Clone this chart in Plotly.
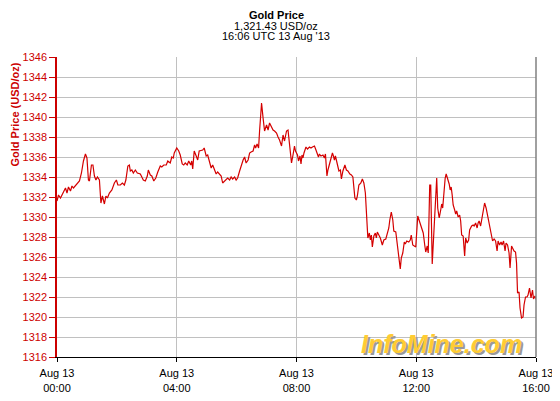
import pandas as pd
import plotly.graph_objects as go

# Minutes after 00:00 UTC, 13 Aug 2013
minutes = [
    0, 3, 7, 13, 17, 20, 23, 27, 30, 33, 40, 45, 49, 53, 57, 60, 63, 65, 69, 72,
    75, 78, 81, 85, 88, 91, 95, 98, 101, 105, 110, 115, 119, 122, 127, 131, 135, 138, 142, 145,
    147, 150, 153, 157, 161, 167, 173, 177, 181, 183, 187, 190, 194, 198, 202, 207, 210, 214, 219, 222,
    227, 230, 233, 235,
    240, 244, 247, 251, 254, 257, 261, 264, 268, 270, 272, 275, 279, 282, 285, 289, 292, 295, 299, 302,
    306, 309, 312, 316, 319, 322, 326, 329, 332, 336, 339, 342, 346, 349, 352, 356, 359, 362, 366, 369,
    373, 376, 379, 383, 386, 389, 393, 396, 398, 401, 404, 406, 410, 413, 416, 420, 423, 426, 430, 433,
    436, 440, 443, 446, 450, 453, 456, 460, 463, 466, 470, 473, 476, 478,
    482, 484, 487, 489, 491, 493, 495, 499, 502, 506, 509, 512, 516, 519, 521, 524, 526, 529, 533, 536,
    538, 541, 543, 545, 548, 552, 554, 556, 558, 562, 565, 568, 570, 573, 577, 580, 583, 587, 590, 593,
    597, 600, 602, 605, 609, 612, 615, 618, 621, 623, 626, 628, 630, 632, 635, 638, 640, 642, 646, 648,
    652, 655, 659, 662, 665, 667, 670, 673, 675, 679, 682, 685, 688, 690, 693, 696, 698, 701, 705, 708,
    710, 713, 716, 719,
    723, 727, 730, 734, 737, 739, 742, 744, 747, 749, 752, 755, 759, 761, 763, 766, 769, 771, 773, 775,
    778, 780, 783, 786, 788, 790, 792, 794, 797, 799, 801, 804, 807, 809, 811, 814, 817, 819, 822, 825,
    827, 831, 834, 836, 839, 842, 844, 846, 849, 852, 855, 857, 860, 863, 865, 868, 871, 873, 876, 879,
    882, 884, 887, 890, 892, 895, 898, 900, 903, 906, 908, 911, 913, 916, 919, 921, 923, 926, 928, 931,
    934, 936, 939, 942, 944, 947, 950, 953, 955, 958, 961, 963,
]

prices = [
    1331.6, 1332.2, 1331.9, 1332.6, 1332.9, 1332.4, 1333.0, 1332.6, 1333.1, 1332.9, 1333.3, 1333.6, 1334.4, 1335.6, 1336.3, 1335.9, 1333.7, 1333.6, 1335.2, 1335.2,
    1334.1, 1333.7, 1334.0, 1333.7, 1331.4, 1332.1, 1331.3, 1332.1, 1331.9, 1332.4, 1332.7, 1333.4, 1333.7, 1333.2, 1333.2, 1333.4, 1333.2, 1333.7, 1335.1, 1335.2,
    1334.6, 1334.7, 1334.4, 1334.7, 1334.4, 1334.3, 1333.7, 1333.6, 1334.1, 1334.7, 1334.2, 1334.1, 1333.6, 1333.9, 1334.5, 1335.1, 1335.0, 1335.2, 1335.2, 1335.6,
    1335.4, 1336.0, 1335.9, 1336.4,
    1336.9, 1336.6, 1336.2, 1335.3, 1335.2, 1335.4, 1335.2, 1335.6, 1335.2, 1335.6, 1334.8, 1336.6, 1336.1, 1335.7, 1336.6, 1336.7, 1336.7, 1336.9, 1336.1, 1336.2,
    1335.4, 1334.9, 1335.2, 1334.6, 1334.3, 1334.5, 1334.2, 1334.1, 1333.4, 1333.6, 1333.7, 1333.9, 1333.7, 1334.0, 1333.8, 1334.0, 1333.7, 1333.9, 1334.6, 1335.1,
    1335.7, 1336.0, 1335.4, 1335.7, 1336.4, 1336.5, 1336.6, 1337.2, 1336.9, 1337.3, 1336.9, 1338.6, 1341.4, 1339.9, 1338.6, 1339.2, 1338.7, 1339.4, 1338.9, 1338.7,
    1338.6, 1338.4, 1338.0, 1337.7, 1337.1, 1338.2, 1337.6, 1338.6, 1338.7, 1337.2, 1335.4, 1336.2, 1337.1, 1336.6,
    1336.2, 1335.6, 1336.1, 1335.3, 1336.2, 1335.9, 1336.4, 1337.0, 1336.8, 1337.0, 1336.9, 1337.0, 1337.1, 1336.7, 1336.4, 1336.0, 1336.3, 1336.1, 1336.2, 1335.9,
    1336.3, 1334.1, 1334.7, 1335.1, 1335.9, 1336.4, 1336.1, 1335.7, 1336.1, 1335.2, 1334.6, 1334.7, 1333.8, 1334.6, 1335.2, 1334.7, 1334.6, 1334.3, 1334.2, 1334.0,
    1331.9, 1331.7, 1332.1, 1333.2, 1333.4, 1333.8, 1333.4, 1332.4, 1329.6, 1327.9, 1328.4, 1327.7, 1328.2, 1327.0, 1328.1, 1328.4, 1327.9, 1328.5, 1328.1, 1327.9,
    1327.2, 1327.7, 1327.8, 1328.4, 1328.9, 1329.7, 1330.5, 1329.7, 1328.6, 1328.5, 1327.2, 1325.6, 1324.8, 1325.9, 1326.4, 1327.5, 1327.3, 1327.6, 1327.5, 1327.7,
    1328.2, 1327.2, 1327.1, 1327.0,
    1330.1, 1329.4, 1328.9, 1328.4, 1327.2, 1326.5, 1327.1, 1326.4, 1333.2, 1333.2, 1325.3, 1328.6, 1331.9, 1333.9, 1330.9, 1329.9, 1330.7, 1331.3, 1330.9, 1332.2,
    1333.9, 1334.3, 1333.9, 1333.3, 1332.7, 1333.0, 1332.2, 1331.2, 1330.7, 1330.3, 1330.6, 1330.0, 1330.2, 1329.6, 1328.2, 1328.1, 1326.1, 1327.9, 1327.4, 1327.7,
    1328.7, 1329.1, 1329.2, 1329.1, 1329.4, 1328.9, 1329.4, 1329.6, 1329.1, 1329.9, 1330.9, 1331.4, 1330.9, 1330.1, 1329.6, 1328.7, 1328.1, 1327.6, 1327.8, 1327.6,
    1326.6, 1327.6, 1327.2, 1327.5, 1327.2, 1327.6, 1326.6, 1327.4, 1327.2, 1326.4, 1324.9, 1327.1, 1326.9, 1326.6, 1326.5, 1325.4, 1322.4, 1322.5, 1320.9, 1319.9,
    1320.0, 1321.2, 1322.0, 1322.0, 1322.2, 1322.9, 1321.9, 1322.7, 1321.8, 1322.1, 1321.7, 1321.9,
]

tick_hours = [0, 4, 8, 12, 16]
tick_labels = ["Aug 13<br>00:00", "Aug 13<br>04:00", "Aug 13<br>08:00", "Aug 13<br>12:00", "Aug 13<br>16:00"]
y_ticks = list(range(1316, 1347, 2))

title_lines = ["<b>Gold Price</b>", "1,321.43 USD/oz", "16:06 UTC 13 Aug '13"]

base = pd.Timestamp("2013-08-13 00:00")
x = [base + pd.Timedelta(minutes=m) for m in minutes]
tickvals = [base + pd.Timedelta(hours=h) for h in tick_hours]

RED = "#cc0000"
FONT = "Liberation Sans, Arial, sans-serif"

fig = go.Figure()
fig.add_trace(go.Scatter(x=x, y=prices, mode="lines",
                         line=dict(color="#d40000", width=1.2), hoverinfo="skip"))

# The page body has an 8px margin, so the figure is drawn 8px in from the
# window corner; the figure is sized/positioned to compensate.
OFF = 8
W, H = 560 - OFF, 401 - OFF
L, R, T, B = 57 - OFF, 24, 57 - OFF, 44
plot_h = H - T - B
plot_w = W - L - R

fig.update_layout(
    width=W, height=H,
    margin=dict(l=L, r=R, t=T, b=B, pad=0, autoexpand=False),
    paper_bgcolor="white", plot_bgcolor="white",
    showlegend=False,
    font=dict(family=FONT, size=11, color="black"),
)

fig.update_xaxes(
    range=[base, base + pd.Timedelta(hours=16)],
    tickvals=tickvals, ticktext=tick_labels,
    showgrid=True, gridcolor="#c0c0c0", gridwidth=1.3,
    showline=True, linecolor="black", linewidth=1.3,
    ticks="outside", ticklen=4, tickcolor="black",
    ticklabelstandoff=2, automargin=False,
    tickfont=dict(family=FONT, size=11, color="black"),
    zeroline=False,
)
fig.update_yaxes(
    range=[1316, 1346],
    tickvals=y_ticks, automargin=False,
    showgrid=True, gridcolor="#c0c0c0", gridwidth=1.3,
    showline=True, linecolor=RED, linewidth=1.5,
    ticks="outside", ticklen=6, tickcolor=RED,
    tickfont=dict(family=FONT, size=11, color=RED),
    zeroline=False,
)

# right border
fig.add_shape(type="line", xref="paper", yref="paper", x0=1, x1=1, y0=0, y1=1,
              line=dict(color="#808080", width=1.5))

# helpers: reference-window pixel -> paper coordinates
def py(ref_y):
    return (H - B - (ref_y - OFF)) / plot_h

def px(ref_x):
    return ((ref_x - OFF) - L) / plot_w

for txt, yy in zip(title_lines, [14.5, 26, 36.5]):
    fig.add_annotation(text=txt, xref="paper", yref="paper", x=px(276), y=py(yy),
                       showarrow=False, xanchor="center", yanchor="middle",
                       font=dict(family=FONT, size=11, color="black"))

fig.add_annotation(text="<b>Gold Price (USD/oz)</b>", xref="paper", yref="paper",
                   x=px(14.5), y=py(115), textangle=-90, showarrow=False,
                   xanchor="center", yanchor="middle",
                   font=dict(family=FONT, size=11, color=RED))

# watermark
for dx, dy, col in [(2, 2, "#9a9a9a"), (0, 0, "#ffcc33")]:
    fig.add_annotation(text="<b><i>InfoMine.com</i></b>", xref="paper", yref="paper",
                       x=px(441 + dx), y=py(344 + dy), showarrow=False,
                       xanchor="center", yanchor="middle",
                       font=dict(family=FONT, size=25, color=col))

fig.write_html("out.html", config={"displayModeBar": False})
